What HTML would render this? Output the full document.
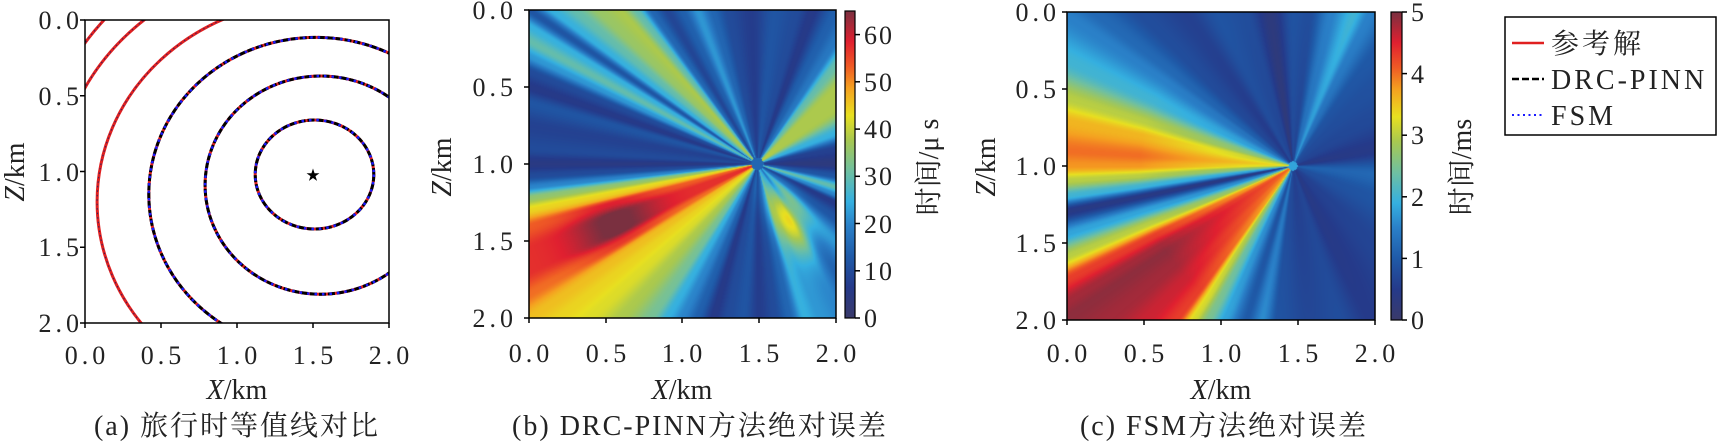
<!DOCTYPE html>
<html><head><meta charset="utf-8">
<style>
html,body{margin:0;padding:0;background:#fff;}
body{width:1721px;height:442px;position:relative;overflow:hidden;}
canvas{position:absolute;display:block;}
svg{position:absolute;left:0;top:0;}
text{font-family:"Liberation Serif","Noto Serif CJK SC","Noto Sans CJK SC",serif;fill:#222;}
.t{font-size:26px;letter-spacing:4px;}
.l{font-size:28px;}
.c{font-size:28px;letter-spacing:2px;}
</style></head><body>
<canvas id="cb" style="left:529px;top:10px;width:307px;height:308px"></canvas>
<canvas id="cc" style="left:1067px;top:12px;width:308px;height:308px"></canvas>
<div style="position:absolute;left:845px;top:11px;width:10px;height:307px;background:linear-gradient(to top,#3a3a6a 0%,#253a8a 10%,#1f5aa8 20%,#2a80c8 30%,#35b0e0 38%,#70c0a0 48%,#a8c850 58%,#e8e020 66%,#f5a020 75%,#ef5a25 82%,#e02030 90%,#7a3040 100%)"></div>
<div style="position:absolute;left:1391px;top:12px;width:11px;height:308px;background:linear-gradient(to top,#3a3a6a 0%,#253a8a 10%,#1f5aa8 20%,#2a80c8 30%,#35b0e0 38%,#70c0a0 48%,#a8c850 58%,#e8e020 66%,#f5a020 75%,#ef5a25 82%,#e02030 90%,#7a3040 100%)"></div>
<svg width="1721" height="442" viewBox="0 0 1721 442">
<defs>
<clipPath id="ca"><rect x="85" y="20" width="304" height="303"/></clipPath>
<clipPath id="ca2"><rect x="85" y="20" width="120" height="140"/></clipPath>
</defs>
<g clip-path="url(#ca)" fill="none">
 <g stroke="#e02020" stroke-width="3">
  <ellipse cx="314.5" cy="174.5" rx="59.3" ry="54.5"/>
  <ellipse cx="320.6" cy="185.1" rx="115.5" ry="109.1"/>
  <ellipse cx="316" cy="194.2" rx="167.2" ry="156.8"/>
  <ellipse cx="316" cy="201.8" rx="218.9" ry="201.5"/>
 </g>
 <g stroke="#000" stroke-width="3" stroke-dasharray="7,2">
  <ellipse cx="314.5" cy="174.5" rx="59.3" ry="54.5"/>
  <ellipse cx="320.6" cy="185.1" rx="115.5" ry="109.1"/>
  <ellipse cx="316" cy="194.2" rx="167.2" ry="156.8"/>
 </g>
 <g stroke="#1a1aff" stroke-width="2.5" stroke-dasharray="2.5,5">
  <ellipse cx="314.5" cy="174.5" rx="59.3" ry="54.5"/>
  <ellipse cx="320.6" cy="185.1" rx="115.5" ry="109.1"/>
  <ellipse cx="316" cy="194.2" rx="167.2" ry="156.8"/>
 </g>
 <ellipse cx="316" cy="201.8" rx="218.9" ry="201.5" stroke="#302060" stroke-width="1" stroke-dasharray="1.5,3"/>
</g>
<g clip-path="url(#ca2)" fill="none">
 <ellipse cx="316" cy="189.7" rx="258.4" ry="227.3" stroke="#e02020" stroke-width="3"/>
 <ellipse cx="316" cy="194.2" rx="281.2" ry="265.1" stroke="#e02020" stroke-width="3"/>
 <ellipse cx="316" cy="189.7" rx="258.4" ry="227.3" stroke="#302060" stroke-width="1" stroke-dasharray="1.5,3"/>
 <ellipse cx="316" cy="194.2" rx="281.2" ry="265.1" stroke="#302060" stroke-width="1" stroke-dasharray="1.5,3"/>
</g>
<text x="313" y="180" font-size="14" text-anchor="middle" style="fill:#000">★</text>
<rect x="85" y="20" width="304" height="303" fill="none" stroke="#000" stroke-width="1.5"/>
<g stroke="#000" stroke-width="1.5">
 <line x1="85" y1="323" x2="85" y2="328"/><line x1="161" y1="323" x2="161" y2="328"/><line x1="237" y1="323" x2="237" y2="328"/><line x1="313" y1="323" x2="313" y2="328"/><line x1="389" y1="323" x2="389" y2="328"/>
 <line x1="80" y1="20" x2="85" y2="20"/><line x1="80" y1="95.75" x2="85" y2="95.75"/><line x1="80" y1="171.5" x2="85" y2="171.5"/><line x1="80" y1="247.25" x2="85" y2="247.25"/><line x1="80" y1="323" x2="85" y2="323"/>
</g>
<g class="t" text-anchor="end">
 <text x="83" y="29">0.0</text><text x="83" y="105">0.5</text><text x="83" y="181">1.0</text><text x="83" y="256">1.5</text><text x="83" y="332">2.0</text>
</g>
<g class="t" text-anchor="middle">
 <text x="87" y="364">0.0</text><text x="163" y="364">0.5</text><text x="239" y="364">1.0</text><text x="315" y="364">1.5</text><text x="391" y="364">2.0</text>
</g>
<text class="l" x="237" y="399" text-anchor="middle"><tspan font-style="italic">X</tspan>/km</text>
<text class="l" transform="translate(24,172) rotate(-90)" text-anchor="middle"><tspan font-style="italic">Z</tspan>/km</text>
<text class="c" x="237" y="435" text-anchor="middle">(a) 旅行时等值线对比</text>

<rect x="529" y="10" width="307" height="308" fill="none" stroke="#000" stroke-width="1.5"/>
<rect x="845" y="11" width="10" height="307" fill="none" stroke="#000" stroke-width="1.2"/>
<g stroke="#000" stroke-width="1.5">
 <line x1="529" y1="318" x2="529" y2="323"/><line x1="606" y1="318" x2="606" y2="323"/><line x1="682" y1="318" x2="682" y2="323"/><line x1="759" y1="318" x2="759" y2="323"/><line x1="836" y1="318" x2="836" y2="323"/>
 <line x1="524" y1="10" x2="529" y2="10"/><line x1="524" y1="87" x2="529" y2="87"/><line x1="524" y1="164" x2="529" y2="164"/><line x1="524" y1="241" x2="529" y2="241"/><line x1="524" y1="318" x2="529" y2="318"/>
 <line x1="855" y1="318" x2="860" y2="318"/><line x1="855" y1="270.8" x2="860" y2="270.8"/><line x1="855" y1="223.5" x2="860" y2="223.5"/><line x1="855" y1="176.3" x2="860" y2="176.3"/><line x1="855" y1="129.1" x2="860" y2="129.1"/><line x1="855" y1="81.8" x2="860" y2="81.8"/><line x1="855" y1="34.6" x2="860" y2="34.6"/>
</g>
<g class="t" text-anchor="end">
 <text x="517" y="19">0.0</text><text x="517" y="96">0.5</text><text x="517" y="173">1.0</text><text x="517" y="250">1.5</text><text x="517" y="327">2.0</text>
</g>
<g class="t" text-anchor="middle">
 <text x="531" y="362">0.0</text><text x="608" y="362">0.5</text><text x="684" y="362">1.0</text><text x="761" y="362">1.5</text><text x="838" y="362">2.0</text>
</g>
<g class="t" style="letter-spacing:2px">
 <text x="864" y="327">0</text><text x="864" y="280">10</text><text x="864" y="233">20</text><text x="864" y="185">30</text><text x="864" y="138">40</text><text x="864" y="91">50</text><text x="864" y="44">60</text>
</g>
<text class="l" transform="translate(938,167) rotate(-90)" text-anchor="middle">时间/μ s</text>
<text class="l" x="682" y="399" text-anchor="middle"><tspan font-style="italic">X</tspan>/km</text>
<text class="l" transform="translate(451,167) rotate(-90)" text-anchor="middle"><tspan font-style="italic">Z</tspan>/km</text>
<text class="c" x="700" y="435" text-anchor="middle">(b) DRC-PINN方法绝对误差</text>

<rect x="1067" y="12" width="308" height="308" fill="none" stroke="#000" stroke-width="1.5"/>
<rect x="1391" y="12" width="11" height="308" fill="none" stroke="#000" stroke-width="1.2"/>
<g stroke="#000" stroke-width="1.5">
 <line x1="1067" y1="320" x2="1067" y2="325"/><line x1="1144" y1="320" x2="1144" y2="325"/><line x1="1221" y1="320" x2="1221" y2="325"/><line x1="1298" y1="320" x2="1298" y2="325"/><line x1="1375" y1="320" x2="1375" y2="325"/>
 <line x1="1062" y1="12" x2="1067" y2="12"/><line x1="1062" y1="89" x2="1067" y2="89"/><line x1="1062" y1="166" x2="1067" y2="166"/><line x1="1062" y1="243" x2="1067" y2="243"/><line x1="1062" y1="320" x2="1067" y2="320"/>
 <line x1="1402" y1="320" x2="1407" y2="320"/><line x1="1402" y1="258.4" x2="1407" y2="258.4"/><line x1="1402" y1="196.8" x2="1407" y2="196.8"/><line x1="1402" y1="135.2" x2="1407" y2="135.2"/><line x1="1402" y1="73.6" x2="1407" y2="73.6"/><line x1="1402" y1="12" x2="1407" y2="12"/>
</g>
<g class="t" text-anchor="end">
 <text x="1060" y="21">0.0</text><text x="1060" y="98">0.5</text><text x="1060" y="175">1.0</text><text x="1060" y="252">1.5</text><text x="1060" y="329">2.0</text>
</g>
<g class="t" text-anchor="middle">
 <text x="1069" y="362">0.0</text><text x="1146" y="362">0.5</text><text x="1223" y="362">1.0</text><text x="1300" y="362">1.5</text><text x="1377" y="362">2.0</text>
</g>
<g class="t">
 <text x="1411" y="329">0</text><text x="1411" y="268">1</text><text x="1411" y="206">2</text><text x="1411" y="144">3</text><text x="1411" y="83">4</text><text x="1411" y="21">5</text>
</g>
<text class="l" transform="translate(1471,167) rotate(-90)" text-anchor="middle">时间/ms</text>
<text class="l" x="1221" y="399" text-anchor="middle"><tspan font-style="italic">X</tspan>/km</text>
<text class="l" transform="translate(995,167) rotate(-90)" text-anchor="middle"><tspan font-style="italic">Z</tspan>/km</text>
<text class="c" x="1224" y="435" text-anchor="middle">(c) FSM方法绝对误差</text>

<rect x="1505" y="17" width="211" height="118" fill="#fff" stroke="#000" stroke-width="1.5"/>
<line x1="1512" y1="43" x2="1544" y2="43" stroke="#e02020" stroke-width="2.5"/>
<line x1="1512" y1="79" x2="1544" y2="79" stroke="#000" stroke-width="2.5" stroke-dasharray="7,3"/>
<line x1="1512" y1="115" x2="1544" y2="115" stroke="#1a1aff" stroke-width="2" stroke-dasharray="2,3.5"/>
<text x="1551" y="53" style="font-size:28px;letter-spacing:3px">参考解</text>
<text x="1551" y="89" style="font-size:28px;letter-spacing:3px">DRC-PINN</text>
<text x="1551" y="125" style="font-size:28px;letter-spacing:3px">FSM</text>
</svg>
<script>
var stops=[[0,[58,58,106]],[0.1,[37,58,138]],[0.2,[31,90,168]],[0.3,[42,128,200]],[0.38,[53,176,224]],[0.48,[112,192,160]],[0.58,[168,200,80]],[0.66,[232,224,32]],[0.75,[245,160,32]],[0.82,[239,90,37]],[0.9,[224,32,48]],[1,[122,48,64]]];
function cmap(t){if(t<0)t=0;if(t>1)t=1;for(var i=1;i<stops.length;i++){if(t<=stops[i][0]){var a=stops[i-1],b=stops[i],f=(t-a[0])/(b[0]-a[0]);return [a[1][0]+(b[1][0]-a[1][0])*f,a[1][1]+(b[1][1]-a[1][1])*f,a[1][2]+(b[1][2]-a[1][2])*f];}}return stops[stops.length-1][1];}
function interp(tab,p){var n=tab.length;
 for(var i=0;i<n;i++){var a=tab[i],b=tab[(i+1)%n];var pa=a[0],pb=b[0];if(i==n-1)pb+=360;var pp=p;if(i==n-1&&p<pa)pp+=360;
  if(pp>=pa&&pp<=pb){var f=(pp-pa)/(pb-pa);f=f*f*(3-2*f);return a[1]+(b[1]-a[1])*f;}}
 return tab[0][1];}
function drawPolar(id,w,h,sx,sz,tab,vmax,fn){var c=document.getElementById(id);c.width=w;c.height=h;var ctx=c.getContext('2d');var im=ctx.createImageData(w,h);
 for(var y=0;y<h;y++){var z=y/(h-1)*2;for(var x=0;x<w;x++){var X=x/(w-1)*2;var dx=X-sx,dz=z-sz;var r=Math.sqrt(dx*dx+dz*dz);var p=Math.atan2(dz,dx)*180/Math.PI;if(p<0)p+=360;
  var v=interp(tab,p);v=fn(X,z,r,v);var cc=cmap(v/vmax);var o=(y*w+x)*4;im.data[o]=cc[0];im.data[o+1]=cc[1];im.data[o+2]=cc[2];im.data[o+3]=255;}}
 ctx.putImageData(im,0,0);}
function sortT(t){t.sort(function(a,b){return a[0]-b[0];});return t;}
var tb=sortT([
[213.9,12],[216.7,25],[220.0,30],[223.9,36],[228.3,38],[231.7,30],[235.4,15],[239.5,9],[243.9,14],[248.7,22],[253.8,15],[259.2,10],[267.7,7],[276.3,12],[284.6,10],[289.8,6],[297.0,14],
[302.5,18],[308.1,30],[315.6,38],[325.5,38],[338.6,25],[348.9,8],[0,4],[8.9,12],[16.4,30],[21.4,20],[26.1,6],[34.5,12],[44.4,22],[53.9,14],[60.5,20],
[67.7,22],[72.8,25],[78.1,15],[83.7,10],[89.4,7],[95.1,12],[100.8,10],[106.1,6],[111.3,14],[116.1,20],[120.5,25],[124.6,32],[131.7,38],[137.5,42],[142.2,44],
[146.1,46],[150.3,52],[154.8,57],[159.7,57],[164.9,53],[168.6,44],[171.6,35],[174.2,20],[176.9,10],[180,5],[183.8,10],[189.5,8],[195.0,12],[198.6,6],[202.1,10],[205.2,22],[208.2,30],[211.1,25]]);
drawPolar('cb',307,308,1.49,1.0,tb,65,function(x,z,r,v){
 if(v>48) v+=9*Math.exp(-Math.pow((r-1.0)/0.3,2))*Math.min(1,(v-48)/8);
 var ux=(x-1.49),uz=(z-1.0);var L=Math.sqrt(0.29*0.29+0.5*0.5);var ax=0.29/L,az=0.5/L;
 var s=ux*ax+uz*az,q=-ux*az+uz*ax;
 v+=24*Math.exp(-Math.pow((s-0.42)/0.25,2)-Math.pow(q/0.1,2));
 if(r<0.04)v=15;
 return v;});
var tc=sortT([
[5.7,1.3],[21.8,1.0],[45,0.7],[63.4,0.5],[73,0.8],[84,0.7],[95.7,0.9],[101.3,1.6],[106.7,1.0],[114,1.8],[118.8,2.5],[123,3.2],[126.9,4.3],[133.5,4.6],[140.2,4.8],[146.3,4.9],[149,4.8],[153.4,4.3],[158.2,3.0],[163.3,1.8],[168.7,0.4],[172.4,2.0],[176.2,3.0],[180,3.8],[183.8,4.0],[191.3,3.6],[196.7,3.0],[205,2.0],[213.7,1.5],[217.6,1.2],[225,0.8],[235,0.6],[243.4,0.9],[253,0.8],[261.5,0.3],[270,0.9],[276,0.8],[284,1.5],[291.8,2.0],[296.6,1.5],[305.5,1.0],[315,0.9],[329,0.8],[348.7,0.5]]);
drawPolar('cc',308,308,1.47,1.0,tc,5,function(x,z,r,v){v*=(0.82+0.18*Math.min(r/1.0,1));if(r<0.03)v=1.8;return v;});
</script>
</body></html>
